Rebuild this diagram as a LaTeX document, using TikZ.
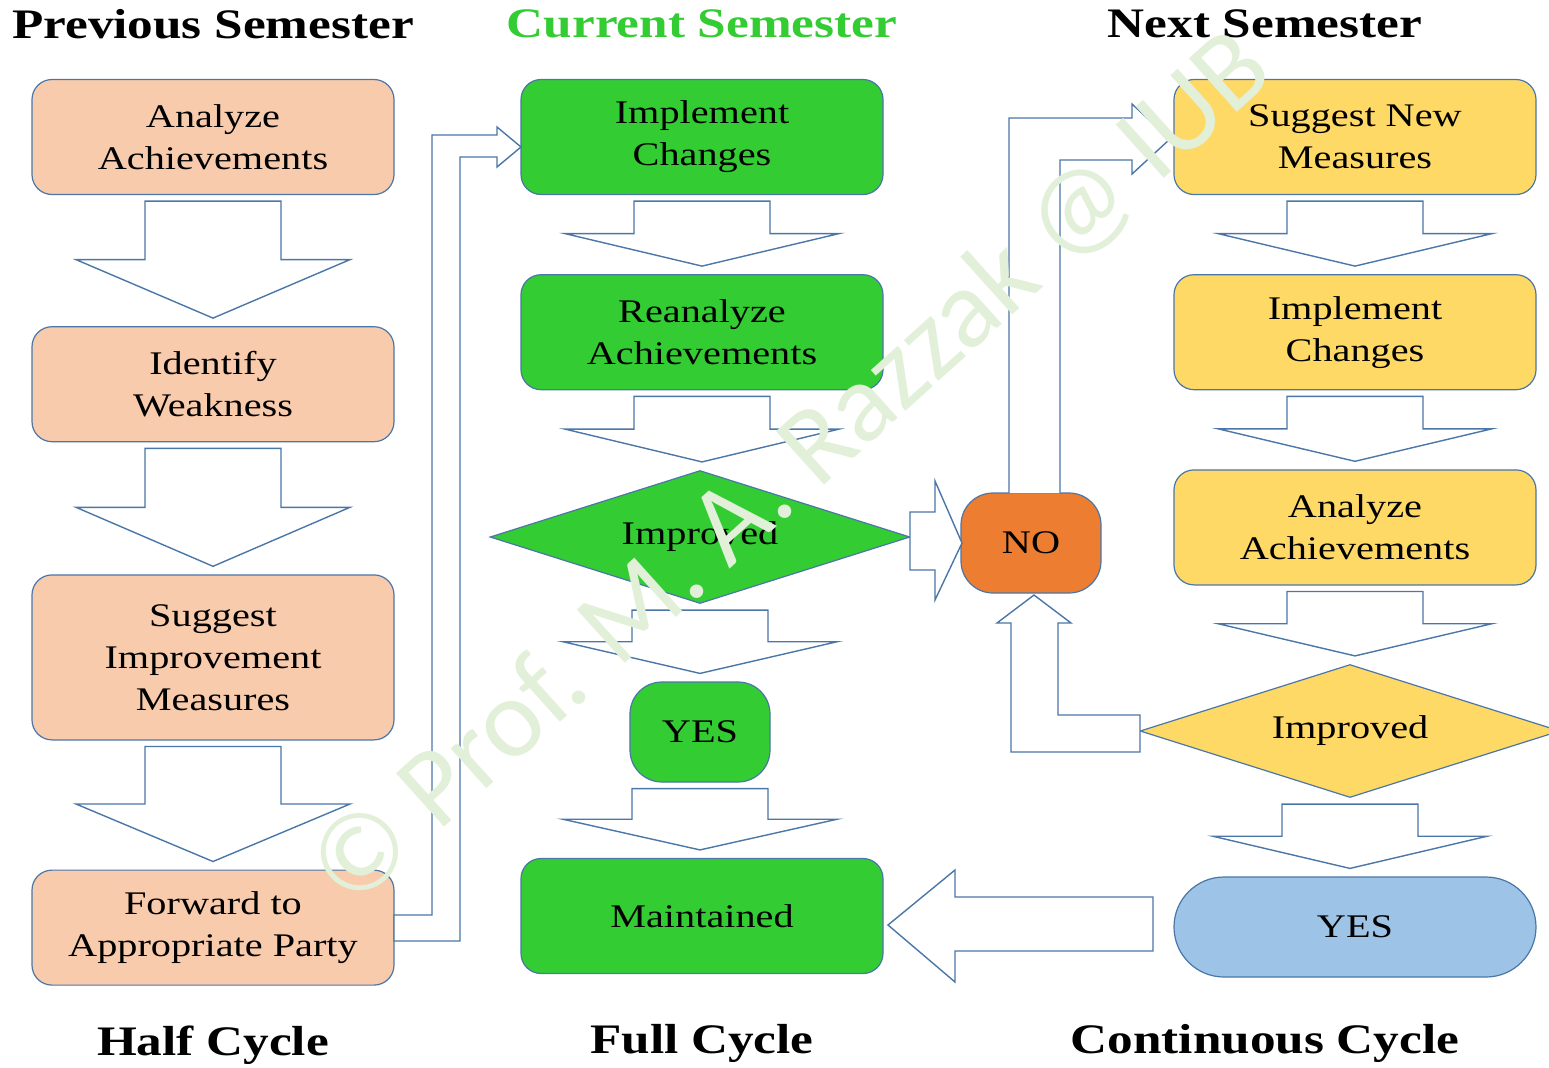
\documentclass[tikz,border=0pt]{standalone}
\usepackage{fontspec}
\setmainfont{Liberation Serif}[FakeStretch=1.22]
\newfontfamily\markfont{Carlito}
\usetikzlibrary{positioning}
\usetikzlibrary{calc}
\usetikzlibrary{shapes.geometric}

\definecolor{peach}{HTML}{F8CBAD}
\definecolor{grn}{HTML}{33CC33}
\definecolor{yel}{HTML}{FFD966}
\definecolor{skyblue}{HTML}{9DC3E6}
\definecolor{orng}{HTML}{ED7D31}
\definecolor{edge}{HTML}{4A76A8}
\definecolor{markgreen}{HTML}{E2F0D9}

\tikzset{
  box/.style={draw=edge, line width=0.6pt, rounded corners=10pt, minimum width=181pt,
    minimum height=57.5pt, align=center, inner sep=2pt, font=\fontsize{16.5}{21}\selectfont},
  pill/.style={box, rounded corners=16pt, minimum width=70pt, minimum height=50pt},
  test/.style={diamond, draw=edge, line width=0.6pt, aspect=3, minimum width=210pt,
    minimum height=66.5pt, inner sep=0pt, font=\fontsize{16.5}{21}\selectfont},
  blk/.style={draw=edge, fill=white, line width=0.7pt, line join=miter},
  title/.style={font=\fontsize{21}{25}\selectfont\bfseries},
  wmark/.style={text=markgreen, font=\markfont\fontsize{56}{60}\selectfont, rotate=42},
}

% hollow down arrow between two nodes
\newcommand{\downblock}[2]{%
  \draw[blk] let \p1=(#1.south), \p2=(#2.north), \n1={\y1-3pt}, \n2={\y2+4pt}, \n3={(\n1+\n2)/2} in
    (\x1-34pt,\n1) -- (\x1+34pt,\n1) -- (\x1+34pt,\n3) -- (\x1+68.5pt,\n3) -- (\x1,\n2)
    -- (\x1-68.5pt,\n3) -- (\x1-34pt,\n3) -- cycle;}

\begin{document}
\begin{tikzpicture}[x=0.5pt, y=-0.5pt]
  \useasboundingbox (0,0) rectangle (1549,1067);

  % titles
  \node[title] (prevT) at (213,24) {Previous Semester};
  \node[title, text=grn] (curT) at (702,24) {Current Semester};
  \node[title] (nextT) at (1265,24) {Next Semester};
  \node[title] (halfT) at (213,1045) {Half Cycle};
  \node[title] (fullT) at (702,1043) {Full Cycle};
  \node[title] (contT) at (1265,1043) {Continuous Cycle};

  % previous semester
  \node[box, fill=peach] (analyzeA) at (213,137) {Analyze\\Achievements};
  \node[box, fill=peach, below=65.5pt of analyzeA] (weakness) {Identify\\Weakness};
  \node[box, fill=peach, minimum height=82.5pt, below=66pt of weakness] (suggestA) {Suggest\\Improvement\\Measures};
  \node[box, fill=peach, below=64.5pt of suggestA] (forward) {Forward to\\Appropriate Party};

  % current semester
  \node[box, fill=grn] (implementB) at (702,137) {Implement\\Changes};
  \node[box, fill=grn, below=39.5pt of implementB] (reanalyze) {Reanalyze\\Achievements};
  \node[test, fill=grn] (improvedB) at (700,537) {Improved};
  \node[pill, fill=grn] (yesB) at (700,732) {YES};
  \node[box, fill=grn] (maintained) at (702,916) {Maintained};

  % next semester
  \node[box, fill=yel] (suggestC) at (1355,137) {Suggest New\\Measures};
  \node[box, fill=yel, below=39.5pt of suggestC] (implementC) {Implement\\Changes};
  \node[box, fill=yel, below=39.5pt of implementC] (analyzeC) {Analyze\\Achievements};
  \node[test, fill=yel] (improvedC) at (1350,731) {Improved};
  \node[box, fill=skyblue, rounded corners=25pt, minimum height=50pt] (yesC) at (1355,927) {YES};

  \node[pill, fill=orng] (no) at (1031,543) {NO};

  % hollow arrows
  \downblock{analyzeA}{weakness}
  \downblock{weakness}{suggestA}
  \downblock{suggestA}{forward}
  \downblock{implementB}{reanalyze}
  \downblock{reanalyze}{improvedB}
  \downblock{improvedB}{yesB}
  \downblock{yesB}{maintained}
  \downblock{suggestC}{implementC}
  \downblock{implementC}{analyzeC}
  \downblock{analyzeC}{improvedC}
  \downblock{improvedC}{yesC}

  \draw[blk] (394,915) -- (432,915) -- (432,135) -- (497,135) -- (497,127) -- (521,147)
    -- (497,167) -- (497,157) -- (460,157) -- (460,941) -- (394,941) -- cycle;
  \draw[blk] (910,512) -- (935,512) -- (935,481) -- (962,543) -- (935,600) -- (935,570)
    -- (910,570) -- cycle;
  \draw[blk] (1009,493) -- (1009,118) -- (1132,118) -- (1132,104) -- (1170,139)
    -- (1132,174) -- (1132,160) -- (1060,160) -- (1060,493);
  \draw[blk] (1140,715) -- (1058,715) -- (1058,623) -- (1071,623) -- (1034,595)
    -- (997,623) -- (1011,623) -- (1011,752) -- (1140,752) -- cycle;
  \draw[blk] (1153,897) -- (955,897) -- (955,870) -- (888,925) -- (955,982) -- (955,951)
    -- (1153,951) -- cycle;

  % watermark
  \node[wmark] (stamp) at (792,470) {© Prof. M. A. Razzak @ IUB};
\end{tikzpicture}
\end{document}
